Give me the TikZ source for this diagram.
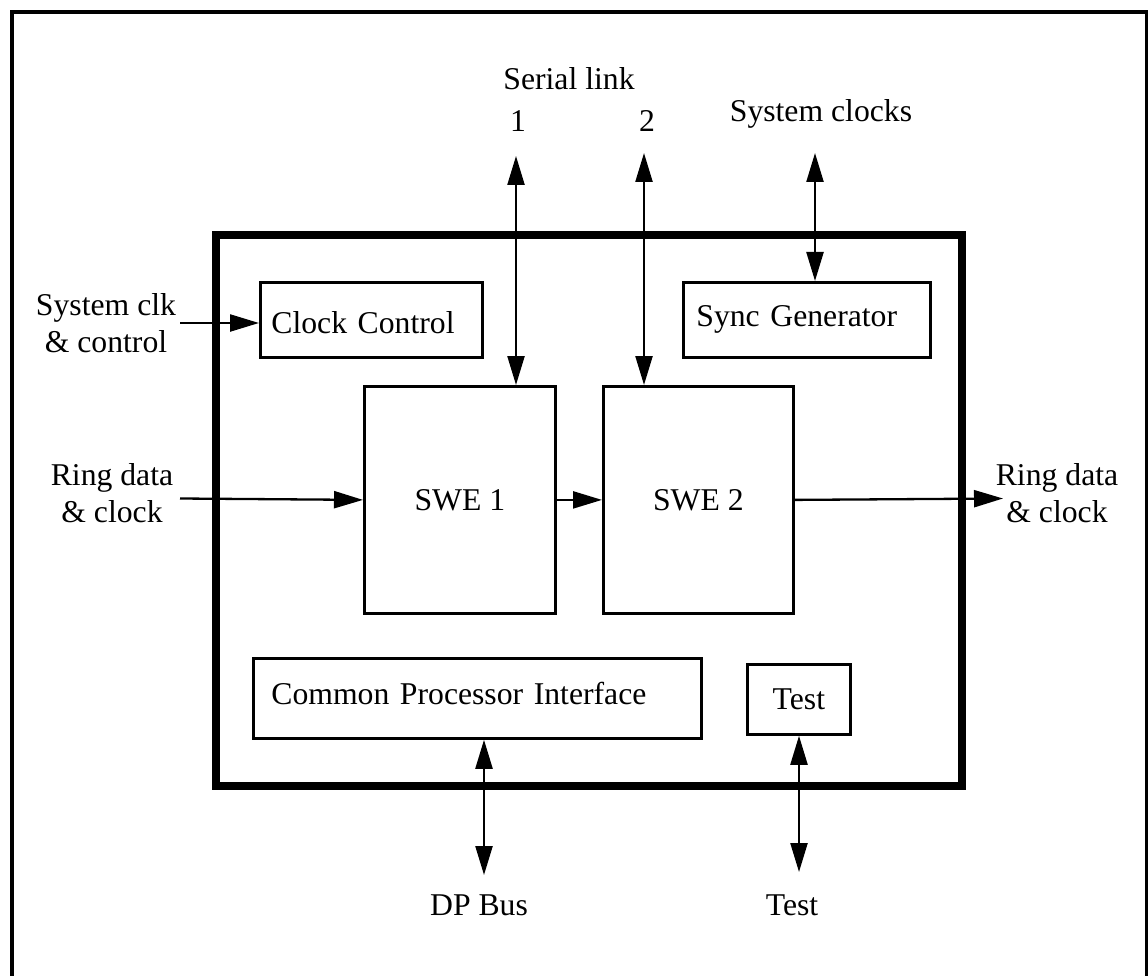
\documentclass[tikz,border=0pt]{standalone}
\usepackage{fontspec}
\setmainfont{Liberation Serif}
\usetikzlibrary{arrows.meta}
\tikzset{
  lbl/.style={font=\fontsize{31.7}{37}\selectfont, inner sep=0pt, anchor=base, align=center},
  box/.style={draw, line width=2.8pt, rectangle, anchor=north west, inner ysep=0pt,
              font=\fontsize{31.7}{37}\selectfont},
  conn/.style={line width=2.3pt, -{Triangle[length=29pt,width=17pt]}},
  biconn/.style={line width=2.3pt, {Triangle[length=29pt,width=17pt]}-{Triangle[length=29pt,width=17pt]}},
}
\begin{document}
\begin{tikzpicture}[x=1pt,y=-1pt]
\useasboundingbox (0,0) rectangle (1148,976);
% outer frame
\draw[line width=4pt] (12,990) -- (12,12) -- (1147,12) -- (1147,990);
% main block
\draw[line width=8pt] (216,235.5) rectangle (962,786);
% boxes
\node[box, inner xsep=11pt, text width=200pt, minimum height=75pt, align=left, text height=27pt, text depth=0pt] (clk) at (259,281) {Clock Control};
\node[box, inner xsep=13pt, text width=221pt, minimum height=75pt, align=left] (sync) at (682,281) {Sync Generator};
\node[box, minimum width=191pt, minimum height=227pt] (swe1) at (363,385) {SWE 1};
\node[box, minimum width=190pt, minimum height=227pt] (swe2) at (602,385) {SWE 2};
\node[box, inner xsep=18pt, text width=412pt, minimum height=80pt, align=left, text height=22pt, text depth=10pt] (cpi) at (252,657) {Common Processor Interface};
\node[box, minimum width=103pt, minimum height=70pt] (test) at (746,663) {Test};
% labels
\node[lbl] (serial) at (569,90) {Serial link};
\node[lbl] (one) at (518,132) {1};
\node[lbl] (two) at (647,132) {2};
\node[lbl] (sysclocks) at (821,122) {System clocks};
\node[lbl] (sysclk) at (106,352) {System clk\\\& control};
\node[lbl] (ringin) at (112,522) {Ring data\\\& clock};
\node[lbl] (ringout) at (1057,522) {Ring data\\\& clock};
\node[lbl] (dpbus) at (479,915) {DP Bus};
\node[lbl] (testlbl) at (792,915) {Test};
% free ends
\coordinate (s1) at (516,156);
\coordinate (s2) at (644,153);
\coordinate (sc) at (815,153);
\coordinate (ci) at (180,323);
\coordinate (ri) at (180,498.5);
\coordinate (ro) at (1003,498.5);
\coordinate (dp) at (484,875);
\coordinate (tb) at (799,872);
% connectors
\draw[biconn] (s1) -- (s1 |- swe1.north);
\draw[biconn] (s2) -- (s2 |- swe2.north);
\draw[biconn] (sc) -- (sc |- sync.north);
\draw[conn] (ci) -- (ci -| clk.west);
\draw[conn] (ri) -- (swe1.west);
\draw[conn] (swe1.east) -- (swe2.west);
\draw[conn] (swe2.east) -- (ro);
\draw[biconn] (dp |- cpi.south) -- (dp);
\draw[biconn] (tb |- test.south) -- (tb);
\end{tikzpicture}
\end{document}
